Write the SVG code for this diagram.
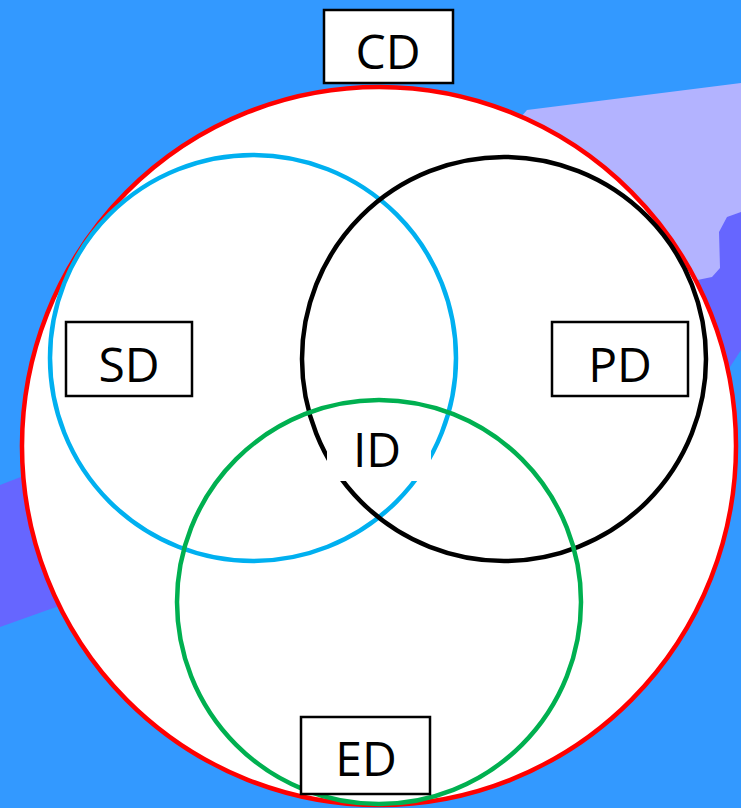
<svg xmlns="http://www.w3.org/2000/svg" width="741" height="808" viewBox="0 0 741 808">
<style>
.box{fill:#fff;stroke:#000;stroke-width:2.5}
.lbl{font-family:"Open Sans","DejaVu Sans",sans-serif;font-size:48px;fill:#000;text-anchor:middle}
.ring{fill:none;stroke-width:4.5}
</style>
<g id="background">
<rect x="0" y="0" width="741" height="808" fill="#3399FF"/>
<polygon points="0,485 741,200 741,350 730,367 0,627" fill="#6666FF"/>
<polygon points="527,110 741,83 741,212 727,217 719,232 720,268 712,277 600,300 450,200" fill="#B3B3FF"/>
</g>
<g id="CD-circle">
<ellipse cx="379" cy="446" rx="357" ry="359" fill="#fff" stroke="#FF0000" stroke-width="4.5"/>
</g>
<g id="connectors"></g>
<g id="SD-circle"><circle class="ring" cx="253" cy="358" r="203" stroke="#00B0F0"/></g>
<g id="PD-circle"><circle class="ring" cx="504" cy="359" r="202" stroke="#000"/></g>
<g id="ED-circle"><circle class="ring" cx="379" cy="602" r="202" stroke="#00B050"/></g>
<g id="ID">
<rect x="327" y="420" width="104" height="61" fill="#fff"/>
<text class="lbl" x="377" y="467">ID</text>
</g>
<g id="CD">
<rect class="box" x="324" y="10" width="129" height="73"/>
<text class="lbl" x="388" y="69">CD</text>
</g>
<g id="SD">
<rect class="box" x="66" y="322" width="126" height="74"/>
<text class="lbl" x="129" y="382">SD</text>
</g>
<g id="PD">
<rect class="box" x="552" y="322" width="136" height="74"/>
<text class="lbl" x="620" y="382">PD</text>
</g>
<g id="ED">
<rect class="box" x="301" y="717" width="129" height="77"/>
<text class="lbl" x="366" y="776">ED</text>
</g>
</svg>
